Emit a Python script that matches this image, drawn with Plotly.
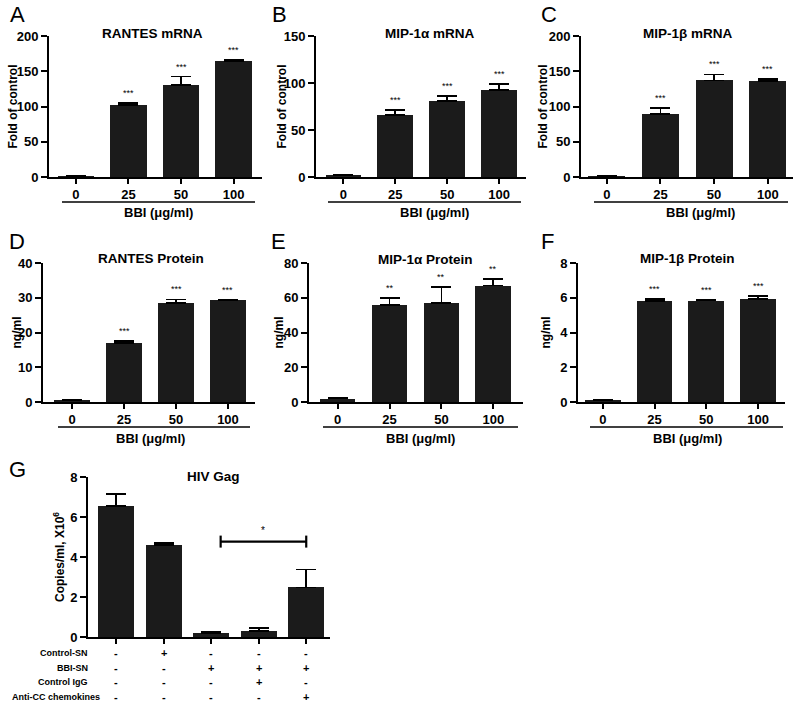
import plotly.graph_objects as go

W, H = 800, 709
FONT = "Liberation Sans, Arial, sans-serif"

# ---------------- data ----------------
dose_labels = ["0", "25", "50", "100"]
dose_axis_label = "BBI (μg/ml)"

rantes_mrna = [1.0, 102.0, 130.0, 164.5]
rantes_mrna_err = [0.3, 3.3, 12.5, 1.2]
rantes_mrna_sig = ["", "***", "***", "***"]

mip1a_mrna = [1.5, 66.0, 81.0, 92.5]
mip1a_mrna_err = [0.3, 5.0, 5.0, 6.5]
mip1a_mrna_sig = ["", "***", "***", "***"]

mip1b_mrna = [1.0, 89.0, 137.0, 136.5]
mip1b_mrna_err = [0.3, 8.5, 8.5, 2.3]
mip1b_mrna_sig = ["", "***", "***", "***"]

rantes_prot = [0.6, 17.0, 28.4, 29.3]
rantes_prot_err = [0.1, 0.5, 1.1, 0.1]
rantes_prot_sig = ["", "***", "***", "***"]

mip1a_prot = [2.0, 56.0, 57.0, 67.0]
mip1a_prot_err = [0.3, 4.0, 9.3, 4.0]
mip1a_prot_sig = ["", "**", "**", "**"]

mip1b_prot = [0.1, 5.82, 5.84, 5.91]
mip1b_prot_err = [0.02, 0.12, 0.04, 0.2]
mip1b_prot_sig = ["", "***", "***", "***"]

gag_values = [6.54, 4.60, 0.22, 0.32, 2.48]
gag_err = [0.60, 0.12, 0.04, 0.15, 0.90]
gag_row_labels = ["Control-SN", "BBI-SN", "Control IgG", "Anti-CC chemokines"]
gag_control_sn = ["-", "+", "-", "-", "-"]
gag_bbi_sn = ["-", "-", "+", "+", "+"]
gag_control_igg = ["-", "-", "-", "+", "-"]
gag_anti_cc = ["-", "-", "-", "-", "+"]
gag_bracket = (2.2, 4.0, 4.77)   # from, to, height
gag_bracket_sig = "*"

# ---------------- panel layout (pixels) ----------------
panels = [
    dict(letter="A", title="RANTES mRNA", ytitle="Fold of control",
         vals=rantes_mrna, err=rantes_mrna_err, sig=rantes_mrna_sig,
         px=(49, 262), py=(36, 177), xr=(-0.51, 3.54), yr=(0, 200), dtick=50,
         letter_pos=(17, 15), title_pos=(152, 33), ytitle_x=13,
         line=(62, 255, 202), lab=(158, 213)),
    dict(letter="B", title="MIP-1α mRNA", ytitle="Fold of control",
         vals=mip1a_mrna, err=mip1a_mrna_err, sig=mip1a_mrna_sig,
         px=(316, 526), py=(36, 177), xr=(-0.53, 3.52), yr=(0, 150), dtick=50,
         letter_pos=(279, 15), title_pos=(430, 33), ytitle_x=282,
         line=(328, 521, 202), lab=(434, 213)),
    dict(letter="C", title="MIP-1β mRNA", ytitle="Fold of control",
         vals=mip1b_mrna, err=mip1b_mrna_err, sig=mip1b_mrna_sig,
         px=(581, 793), py=(36, 177), xr=(-0.48, 3.47), yr=(0, 200), dtick=50,
         letter_pos=(549, 15), title_pos=(687, 33), ytitle_x=543,
         line=(594, 788, 202), lab=(700, 213)),
    dict(letter="D", title="RANTES Protein", ytitle="ng/ml",
         vals=rantes_prot, err=rantes_prot_err, sig=rantes_prot_sig,
         px=(43, 255), py=(263, 402), xr=(-0.56, 3.52), yr=(0, 40), dtick=10,
         letter_pos=(17, 241), title_pos=(151, 258), ytitle_x=16,
         line=(58, 250, 427), lab=(150, 438)),
    dict(letter="E", title="MIP-1α Protein", ytitle="ng/ml",
         vals=mip1a_prot, err=mip1a_prot_err, sig=mip1a_prot_sig,
         px=(309, 523), py=(263, 402), xr=(-0.55, 3.57), yr=(0, 80), dtick=20,
         letter_pos=(278, 241), title_pos=(425, 259), ytitle_x=278,
         line=(323, 518, 427), lab=(420, 438)),
    dict(letter="F", title="MIP-1β Protein", ytitle="ng/ml",
         vals=mip1b_prot, err=mip1b_prot_err, sig=mip1b_prot_sig,
         px=(578, 785), py=(263, 402), xr=(-0.48, 3.52), yr=(0, 8), dtick=2,
         letter_pos=(547, 241), title_pos=(687, 258), ytitle_x=545,
         line=(590, 783, 427), lab=(687, 438)),
]

BAR_COLOR = "#1b1b1b"


def pxx(x):
    return x / W


def pxy(y):
    return 1 - y / H


fig = go.Figure()
annotations = []
shapes = []

axis_common = dict(showline=True, linecolor="black", linewidth=1.7,
                   ticks="outside", tickcolor="black", tickwidth=1.7,
                   showgrid=False, zeroline=False, fixedrange=True,
                   tickfont=dict(family=FONT, size=13, color="black", weight="bold"))


def text_ann(x, y, text, size, bold=True, angle=0, xanchor="center", **kw):
    d = dict(x=x, y=y, xref=kw.pop("xref", "paper"), yref=kw.pop("yref", "paper"),
             text=text, showarrow=False, textangle=angle, xanchor=xanchor,
             yanchor=kw.pop("yanchor", "middle"),
             font=dict(family=FONT, size=size, color="black",
                       weight="bold" if bold else "normal"))
    d.update(kw)
    return d


for i, p in enumerate(panels, start=1):
    xa = "x" if i == 1 else f"x{i}"
    ya = "y" if i == 1 else f"y{i}"
    xkey = "xaxis" if i == 1 else f"xaxis{i}"
    ykey = "yaxis" if i == 1 else f"yaxis{i}"
    xs = list(range(len(dose_labels)))
    fig.add_trace(go.Bar(
        x=xs, y=p["vals"], width=0.69, marker=dict(color=BAR_COLOR, line=dict(width=0)),
        error_y=dict(type="data", symmetric=False, array=p["err"],
                     arrayminus=[0] * len(xs), color="black", thickness=1.8, width=10),
        xaxis=xa, yaxis=ya, showlegend=False, hoverinfo="skip"))
    fig.update_layout({
        xkey: dict(axis_common, domain=[pxx(p["px"][0]), pxx(p["px"][1])],
                   range=list(p["xr"]), tickvals=xs, ticktext=dose_labels,
                   ticklen=5, anchor=ya),
        ykey: dict(axis_common, domain=[pxy(p["py"][1]), pxy(p["py"][0])],
                   range=list(p["yr"]), dtick=p["dtick"], ticklen=6, anchor=xa),
    })
    for j, s in enumerate(p["sig"]):
        if s:
            annotations.append(text_ann(j, p["vals"][j] + p["err"][j], s, 9, bold=False,
                                        xref=xa, yref=ya, yanchor="bottom", yshift=3))
    annotations.append(text_ann(pxx(p["letter_pos"][0]), pxy(p["letter_pos"][1]),
                                p["letter"], 22, bold=False))
    annotations.append(text_ann(pxx(p["title_pos"][0]), pxy(p["title_pos"][1]),
                                p["title"], 13.5))
    annotations.append(text_ann(pxx(p["ytitle_x"]), pxy((p["py"][0] + p["py"][1]) / 2),
                                p["ytitle"], 12, angle=-90))
    annotations.append(text_ann(pxx(p["lab"][0]), pxy(p["lab"][1]), dose_axis_label, 13))
    lx0, lx1, ly = p["line"]
    shapes.append(dict(type="line", xref="paper", yref="paper",
                       x0=pxx(lx0), x1=pxx(lx1), y0=pxy(ly), y1=pxy(ly),
                       line=dict(color="black", width=1.7)))

# ---------------- panel G ----------------
gx = list(range(len(gag_values)))
fig.add_trace(go.Bar(
    x=gx, y=gag_values, width=0.76, marker=dict(color=BAR_COLOR, line=dict(width=0)),
    error_y=dict(type="data", symmetric=False, array=gag_err,
                 arrayminus=[0] * len(gx), color="black", thickness=1.8, width=10),
    xaxis="x7", yaxis="y7", showlegend=False, hoverinfo="skip"))
fig.update_layout(
    xaxis7=dict(axis_common, domain=[pxx(88), pxx(330)], range=[-0.59, 4.5],
                tickvals=gx, showticklabels=False, ticklen=5, anchor="y7"),
    yaxis7=dict(axis_common, domain=[pxy(637), pxy(477)], range=[0, 8], dtick=2,
                ticklen=6, anchor="x7"),
)
annotations.append(text_ann(pxx(17), pxy(469), "G", 22, bold=False))
annotations.append(text_ann(pxx(213), pxy(477), "HIV Gag", 13.5))
annotations.append(text_ann(pxx(59), pxy(557), "Copies/ml, X10<sup>6</sup>", 12, angle=-90))

# significance bracket
bx0, bx1, by = gag_bracket
shapes.append(dict(type="line", xref="x7", yref="y7", x0=bx0, x1=bx1, y0=by, y1=by,
                   line=dict(color="black", width=2.2)))
for bx in (bx0, bx1):
    shapes.append(dict(type="line", xref="x7", yref="y7", x0=bx, x1=bx,
                       y0=by - 0.3, y1=by + 0.3, line=dict(color="black", width=2.2)))
annotations.append(text_ann((bx0 + bx1) / 2, by, gag_bracket_sig, 10, bold=False,
                            xref="x7", yref="y7", yanchor="bottom", yshift=4))

# condition table
rows = [gag_control_sn, gag_bbi_sn, gag_control_igg, gag_anti_cc]
row_y = [653, 668, 682, 697]
row_label_right = [90, 90, 90, 102]
for label, row, ry, rx in zip(gag_row_labels, rows, row_y, row_label_right):
    annotations.append(text_ann(pxx(rx), pxy(ry), label, 9, xanchor="right"))
    for j, sym in enumerate(row):
        annotations.append(text_ann(j, pxy(ry), sym, 11, xref="x7"))

fig.update_layout(
    width=W, height=H, margin=dict(l=0, r=0, t=0, b=0, autoexpand=False),
    paper_bgcolor="white", plot_bgcolor="white",
    annotations=annotations, shapes=shapes, bargap=0,
    font=dict(family=FONT, color="black"),
)

fig.write_html("out.html", config={"displayModeBar": False},
               post_script="document.body.style.margin='0px';"
                           "document.body.style.overflow='hidden';")
